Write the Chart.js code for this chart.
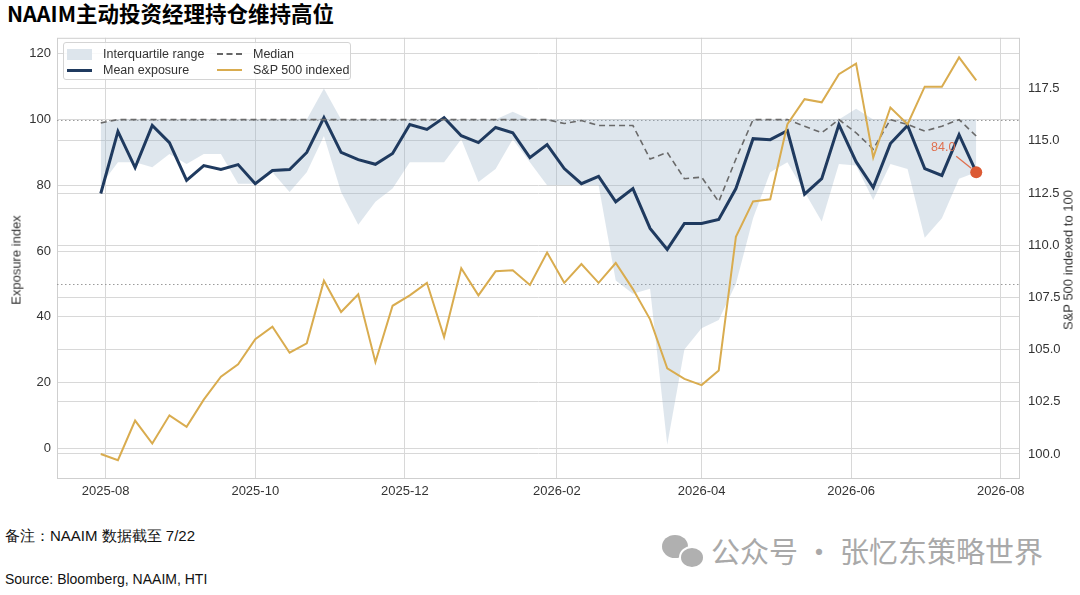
<!DOCTYPE html>
<html>
<head>
<meta charset="utf-8">
<script src="https://cdn.jsdelivr.net/npm/chart.js@4.4.1/dist/chart.umd.min.js"></script>
<style>
  html, body { margin: 0; padding: 0; background: #fff; }
  body { width: 1080px; height: 595px; position: relative; overflow: hidden; font-family: 'Liberation Sans', Arial, sans-serif; }
  #title { position: absolute; left: 7px; top: -1px; font: bold 21.5px 'Noto Sans CJK SC', sans-serif; color: #000; line-height: 28px; }
  #wrap { position: absolute; left: 0; top: 22px; width: 1080px; height: 483px; }
  .legend { position: absolute; left: 63px; top: 42px; width: 288px; height: 38px; border: 1px solid #d4d4d4; border-radius: 3px;
            background: rgba(255,255,255,0.85); box-sizing: border-box; font-size: 12.5px; color: #333; }
  .item { position: absolute; height: 16px; line-height: 16px; white-space: nowrap; }
  .sw { position: absolute; left: 0; width: 25px; }
  .item span { position: absolute; left: 36px; top: 0; }
  .ytitle { position: absolute; font-size: 13px; color: #333; white-space: nowrap; transform: translate(-50%, -50%) rotate(-90deg); }
  .note { position: absolute; left: 5px; font-size: 15px; color: #111; white-space: nowrap; }
  #mark { position: absolute; left: 711px; top: 529px; font: 29px 'Noto Sans CJK SC', sans-serif; color: #a9a9a9; white-space: nowrap; }
  .bub { position: absolute; border-radius: 50%; background: #b0b0b0; }
</style>
</head>
<body>
<div id="title">NAAIM主动投资经理持仓维持高位</div>
<div id="wrap"><canvas id="chart"></canvas></div>

<div class="legend">
  <div class="item" style="left:3px; top:3px;"><div class="sw" style="top:3px; height:11px; background:#dde5ec;"></div><span>Interquartile range</span></div>
  <div class="item" style="left:153px; top:3px;"><div class="sw" style="top:7px; border-top:2px dashed #666;"></div><span>Median</span></div>
  <div class="item" style="left:3px; top:19px;"><div class="sw" style="top:7px; border-top:3px solid #1f3a5f;"></div><span>Mean exposure</span></div>
  <div class="item" style="left:153px; top:19px;"><div class="sw" style="top:7px; border-top:2px solid #d9ac4f;"></div><span>S&amp;P 500 indexed</span></div>
</div>

<div class="ytitle" style="left:16px; top:260px;">Exposure index</div>
<div class="ytitle" style="left:1068px; top:260px;">S&amp;P 500 indexed to 100</div>

<div class="note" style="top:527px;">备注：NAAIM 数据截至 7/22</div>
<div class="note" style="top:571px; font-size:14px;">Source: Bloomberg, NAAIM, HTI</div>

<div class="bub" style="left:662px; top:535px; width:26px; height:23px;"></div>
<div class="bub" style="left:679px; top:546px; width:22px; height:19px; border:2px solid #fff;"></div>
<div id="mark">公众号 · 张忆东策略世界</div>

<script>
// weekly NAAIM survey dates
const dates = [
  '2025-07-30', '2025-08-06', '2025-08-13', '2025-08-20', '2025-08-27', '2025-09-03', '2025-09-10', '2025-09-17',
  '2025-09-24', '2025-10-01', '2025-10-08', '2025-10-15', '2025-10-22', '2025-10-29', '2025-11-05', '2025-11-12',
  '2025-11-19', '2025-11-26', '2025-12-03', '2025-12-10', '2025-12-17', '2025-12-24', '2025-12-31', '2026-01-07',
  '2026-01-14', '2026-01-21', '2026-01-28', '2026-02-04', '2026-02-11', '2026-02-18', '2026-02-25', '2026-03-04',
  '2026-03-11', '2026-03-18', '2026-03-25', '2026-04-01', '2026-04-08', '2026-04-15', '2026-04-22', '2026-04-29',
  '2026-05-06', '2026-05-13', '2026-05-20', '2026-05-27', '2026-06-03', '2026-06-10', '2026-06-17', '2026-06-24',
  '2026-07-01', '2026-07-08', '2026-07-15', '2026-07-22'
]

const meanExposure = [
  77.5, 96.4, 85.4, 98.2, 93.0, 81.5, 86.0, 84.8, 86.3, 80.5, 84.5, 84.8, 90.0, 100.6, 90.0, 87.8,
  86.4, 89.7, 98.5, 97.0, 100.6, 95.1, 93.0, 97.6, 96.0, 88.4, 92.4, 85.1, 80.5, 82.7, 75.0, 79.0,
  66.9, 60.5, 68.4, 68.4, 69.6, 79.0, 94.2, 93.9, 96.6, 77.3, 82.0, 98.5, 87.2, 79.3, 92.7, 98.2,
  85.1, 83.0, 95.4, 84.0
]

const medianExposure = [
  99.0, 100, 100, 100, 100, 100, 100, 100, 100, 100, 100, 100, 100, 100, 100, 100,
  100, 100, 100, 100, 100, 100, 100, 100, 100, 100, 100, 98.8, 99.7, 98.2, 98.2, 98.2,
  88.0, 90.0, 82.0, 82.5, 75.0, 88.0, 100, 100, 100, 98.0, 96.0, 100, 96.0, 91.0, 100, 98.5,
  96.5, 98.0, 100, 95.0
]

const q1Exposure = [
  80.0, 87.0, 87.0, 85.5, 89.5, 86.5, 89.5, 89.5, 80.5, 80.5, 84.0, 78.0, 84.0, 95.0, 78.0, 68.0,
  75.0, 79.0, 87.0, 87.0, 87.0, 94.0, 81.0, 85.0, 94.0, 87.0, 80.0, 80.0, 80.0, 80.0, 51.0, 47.0,
  48.5, 1.0, 30.0, 36.5, 39.0, 50.0, 70.0, 84.0, 87.0, 78.0, 69.0, 86.5, 86.0, 75.5, 86.5, 85.0,
  64.0, 70.0, 82.0, 84.0
]

const q3Exposure = [
  99.0, 100, 100, 100, 100, 100, 100, 100, 100, 100, 100, 100, 100, 109.5, 100, 100,
  100, 100, 100, 100, 100, 100, 100, 100, 102.4, 100, 100, 100, 100, 100, 100, 100,
  100, 100, 100, 100, 100, 100, 100, 100, 100, 100, 100, 100, 103.3, 100, 100, 100,
  100, 100, 100, 100
]

const sp500Indexed = [
  100.0, 99.7, 101.6, 100.5, 101.85, 101.3, 102.6, 103.7, 104.3, 105.5, 106.1, 104.85, 105.3, 108.3, 106.8, 107.65,
  104.4, 107.1, 107.6, 108.2, 105.6, 108.9, 107.6, 108.75, 108.8, 108.1, 109.65, 108.2, 109.1, 108.2, 109.15, 107.9,
  106.45, 104.1, 103.6, 103.3, 104.0, 110.4, 112.1, 112.2, 115.8, 117.0, 116.85, 118.2, 118.7, 114.2, 116.6, 115.8,
  117.6, 117.6, 119.0, 117.9
]

const xTickLabels = ['2025-08', '2025-10', '2025-12', '2026-02', '2026-04', '2026-06', '2026-08']
const leftTicks = [0, 20, 40, 60, 80, 100, 120]
const rightTicks = [100, 102.5, 105, 107.5, 110, 112.5, 115, 117.5]
const refLines = [100, 50]
const lastLabel = '84.0'

// x positions as days since the first survey
const DAY = 86400000
const t0 = Date.parse(dates[0] + 'T00:00:00Z')
const dayOf = (s) => (Date.parse(s + 'T00:00:00Z') - t0) / DAY
const xs = dates.map(dayOf)
const xTickDays = xTickLabels.map((m) => dayOf(m + '-01'))
const pts = (arr) => arr.map((v, i) => ({ x: xs[i], y: v }))

const span = xs[xs.length - 1] - xs[0]
const FONT = "'Liberation Sans', Arial, sans-serif"
const GRID = '#d8d8d8'

// frame + dotted reference lines under the data, label for the latest reading on top
const framePlugin = {
  id: 'frame',
  beforeDatasetsDraw(chart) {
    const { ctx, chartArea: a, scales } = chart
    ctx.save()
    ctx.strokeStyle = '#cfcfcf'
    ctx.lineWidth = 1
    ctx.strokeRect(a.left + 0.5, a.top + 0.5, a.width - 1, a.height - 1)
    ctx.strokeStyle = '#9a9a9a'
    ctx.setLineDash([1.5, 2.5])
    refLines.forEach((v) => {
      const py = Math.round(scales.y.getPixelForValue(v)) + 0.5
      ctx.beginPath()
      ctx.moveTo(a.left, py)
      ctx.lineTo(a.right, py)
      ctx.stroke()
    })
    ctx.restore()
  },
  afterDatasetsDraw(chart) {
    const { ctx, scales } = chart
    const n = xs.length - 1
    const px = scales.x.getPixelForValue(xs[n])
    const py = scales.y.getPixelForValue(meanExposure[n])
    ctx.save()
    ctx.strokeStyle = '#e0704f'
    ctx.lineWidth = 1.3
    ctx.beginPath()
    ctx.moveTo(px - 20, py - 16)
    ctx.lineTo(px - 5, py - 4)
    ctx.stroke()
    ctx.fillStyle = '#e0704f'
    ctx.font = '12.5px ' + FONT
    ctx.textAlign = 'center'
    ctx.textBaseline = 'middle'
    ctx.fillText(lastLabel, px - 33, py - 25)
    ctx.restore()
  },
}

new Chart(document.getElementById('chart'), {
  type: 'line',
  data: {
    datasets: [
      {
        label: 'Q3',
        data: pts(q3Exposure),
        yAxisID: 'y',
        borderWidth: 0,
        pointRadius: 0,
        backgroundColor: 'rgba(145,172,195,0.3)',
        fill: '+1',
        order: 5,
      },
      {
        label: 'Q1',
        data: pts(q1Exposure),
        yAxisID: 'y',
        borderWidth: 0,
        pointRadius: 0,
        fill: false,
        order: 5,
      },
      {
        label: 'Mean exposure',
        data: pts(meanExposure),
        yAxisID: 'y',
        borderColor: '#1f3a5f',
        borderWidth: 3,
        pointRadius: 0,
        fill: false,
        order: 3,
      },
      {
        label: 'Median',
        data: pts(medianExposure),
        yAxisID: 'y',
        borderColor: '#6a6a6a',
        borderWidth: 1.6,
        borderDash: [6, 4],
        pointRadius: 0,
        fill: false,
        order: 2,
      },
      {
        label: 'S&P 500 indexed',
        data: pts(sp500Indexed),
        yAxisID: 'y1',
        borderColor: '#d9ac4f',
        borderWidth: 2,
        pointRadius: 0,
        fill: false,
        order: 1,
      },
      {
        label: 'Latest',
        data: [{ x: xs[xs.length - 1], y: meanExposure[meanExposure.length - 1] }],
        yAxisID: 'y',
        showLine: false,
        pointRadius: 6,
        pointBackgroundColor: '#dc5a34',
        pointBorderWidth: 0,
        order: 0,
      },
    ],
  },
  options: {
    responsive: true,
    maintainAspectRatio: false,
    animation: false,
    layout: { padding: { top: 7, left: 0, right: 0, bottom: 0 } },
    plugins: {
      legend: { display: false },
      tooltip: { enabled: false },
    },
    scales: {
      x: {
        type: 'linear',
        min: xs[0] - span * 0.05,
        max: xs[xs.length - 1] + span * 0.05,
        afterBuildTicks: (scale) => { scale.ticks = xTickDays.map((v) => ({ value: v })) },
        afterFit: (scale) => { scale.height = 26 },
        ticks: {
          callback: (v, i) => xTickLabels[i],
          autoSkip: false,
          maxRotation: 0,
          padding: 5,
          color: '#333',
          font: { size: 13, family: FONT },
        },
        grid: { color: GRID, drawTicks: false },
        border: { display: false },
      },
      y: {
        position: 'left',
        min: -9.4,
        max: 124.9,
        afterBuildTicks: (scale) => { scale.ticks = leftTicks.map((v) => ({ value: v })) },
        afterFit: (scale) => { scale.width = 57 },
        ticks: {
          padding: 6,
          color: '#333',
          font: { size: 13, family: FONT },
        },
        grid: { color: GRID, drawTicks: false },
        border: { display: false },
      },
      y1: {
        position: 'right',
        min: 98.8,
        max: 119.94,
        afterBuildTicks: (scale) => { scale.ticks = rightTicks.map((v) => ({ value: v })) },
        afterFit: (scale) => { scale.width = 60 },
        ticks: {
          callback: (v) => v.toFixed(1),
          padding: 8,
          color: '#333',
          font: { size: 13, family: FONT },
        },
        grid: { color: GRID, drawTicks: false },
        border: { display: false },
      },
    },
  },
  plugins: [framePlugin],
})
</script>
</body>
</html>
